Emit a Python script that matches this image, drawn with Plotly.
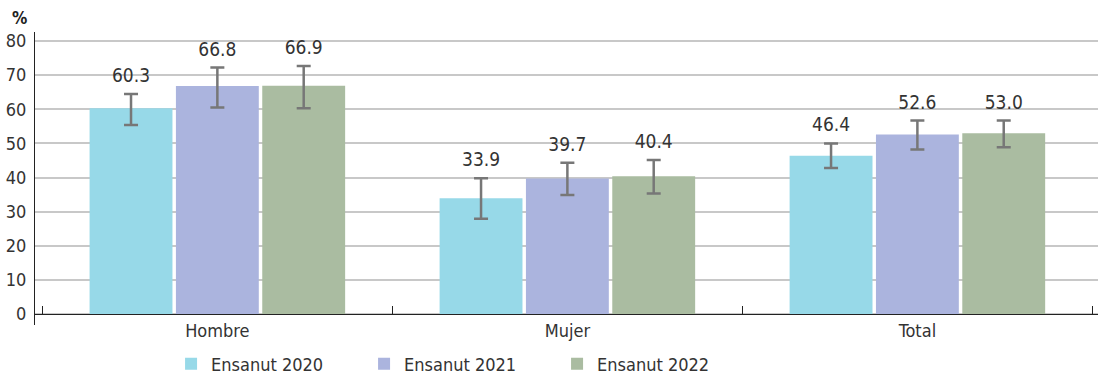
import plotly.graph_objects as go

# Categories and survey rounds
categories = ["Hombre", "Mujer", "Total"]
series_names = ["Ensanut 2020", "Ensanut 2021", "Ensanut 2022"]

# Prevalence (%) per round
values_2020 = [60.3, 33.9, 46.4]
values_2021 = [66.8, 39.7, 52.6]
values_2022 = [66.9, 40.4, 53.0]

# 95% confidence interval bounds
ci_low_2020 = [55.4, 27.9, 42.8]
ci_high_2020 = [64.5, 39.8, 50.0]
ci_low_2021 = [60.5, 34.9, 48.2]
ci_high_2021 = [72.2, 44.3, 56.7]
ci_low_2022 = [60.3, 35.3, 48.9]
ci_high_2022 = [72.7, 45.1, 56.7]

y_ticks = [0, 10, 20, 30, 40, 50, 60, 70, 80]

colors = ["#97d9e8", "#abb4de", "#aabca1"]
FONT = "DejaVu Sans Condensed, Liberation Sans Narrow, Arial Narrow, sans-serif"
TEXT = "#333333"

series = [
    (values_2020, ci_low_2020, ci_high_2020),
    (values_2021, ci_low_2021, ci_high_2021),
    (values_2022, ci_low_2022, ci_high_2022),
]

fig = go.Figure()
for i, (name, (vals, lo, hi)) in enumerate(zip(series_names, series)):
    fig.add_trace(go.Bar(
        x=categories, y=vals, name=name,
        marker=dict(color=colors[i], line=dict(width=0)),
        offsetgroup=str(i),
        error_y=dict(
            type="data", symmetric=False,
            array=[h - v for h, v in zip(hi, vals)],
            arrayminus=[v - l for v, l in zip(vals, lo)],
            color="#777777", thickness=2.5, width=7,
        ),
    ))
    # value labels sitting above the upper CI bound (invisible marker pads the gap)
    fig.add_trace(go.Scatter(
        x=categories, y=hi, mode="markers+text",
        marker=dict(size=10, opacity=0),
        text=[f"{v:.1f}" for v in vals], textposition="top center",
        textfont=dict(family=FONT, size=19, color=TEXT),
        offsetgroup=str(i), showlegend=False, hoverinfo="skip", cliponaxis=False,
    ))

px_per_unit = 3.4125
y_lo = -11 / px_per_unit
y_hi = 282 / px_per_unit

fig.update_layout(
    width=1099, height=377,
    margin=dict(l=35, r=1, t=32, b=52, autoexpand=False),
    paper_bgcolor="white", plot_bgcolor="white",
    barmode="group", bargap=0.26, bargroupgap=0.04,
    scattermode="group",
    font=dict(family=FONT, size=17, color=TEXT),
    showlegend=True,
    legend=dict(
        orientation="h", x=0.128, xanchor="left", y=-0.133, yanchor="middle",
        font=dict(family=FONT, size=18, color=TEXT),
        entrywidth=148, entrywidthmode="pixels",
        traceorder="normal", itemclick=False,
    ),
    xaxis=dict(
        range=[-0.521, 2.516],
        anchor="free", position=(-y_lo) / (y_hi - y_lo),
        showline=True, linecolor="#222222", linewidth=1.3,
        ticks="inside", ticklen=8, tickcolor="#222222", tickwidth=1,
        tickson="boundaries", showgrid=False,
        tickfont=dict(family=FONT, size=18, color=TEXT),
    ),
    yaxis=dict(
        range=[y_lo, y_hi], tickvals=y_ticks,
        showline=True, linecolor="#222222", linewidth=1.3,
        showgrid=True, gridcolor="#c8c8c8", gridwidth=1.5,
        zeroline=False, ticks="", ticklabelstandoff=4,
        tickfont=dict(family=FONT, size=18, color=TEXT),
    ),
    annotations=[dict(
        text="<b>%</b>", xref="paper", yref="paper", x=-0.015, y=1.0,
        xanchor="center", yanchor="bottom", yshift=2, showarrow=False,
        font=dict(family=FONT, size=17, color="#222222"),
    )],
)

fig.write_html("out.html")
